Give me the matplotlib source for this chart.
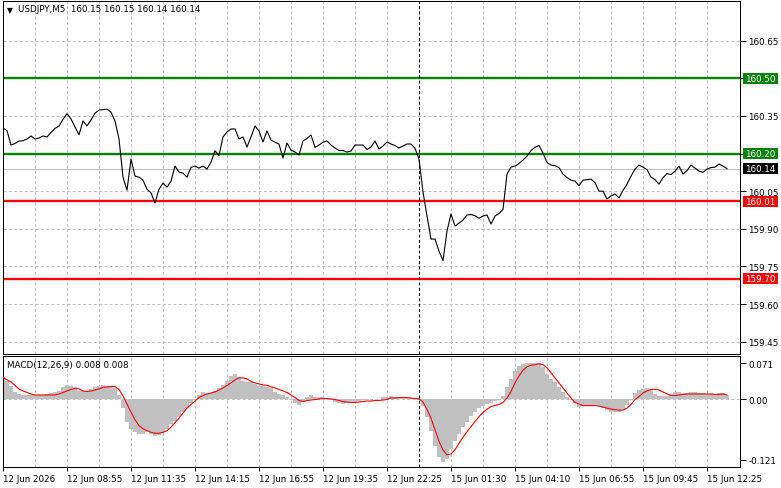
import matplotlib
matplotlib.use("Agg")
import matplotlib.pyplot as plt
from matplotlib.patches import Rectangle
import numpy as np

plt.rcParams['font.family'] = ['DejaVu Sans']

# USDJPY M5 close, every second bar (10 min step)
close = [
    160.302, 160.291, 160.234, 160.240, 160.250, 160.251, 160.258, 160.270, 160.258, 160.262,
    160.270, 160.266, 160.284, 160.300, 160.310, 160.336, 160.359, 160.338, 160.306, 160.275,
    160.330, 160.310, 160.334, 160.361, 160.373, 160.375, 160.377, 160.365, 160.330, 160.258,
    160.106, 160.054, 160.178, 160.110, 160.106, 160.094, 160.058, 160.043, 160.003, 160.058,
    160.082, 160.066, 160.090, 160.150, 160.126, 160.122, 160.106, 160.145, 160.150, 160.142,
    160.150, 160.138, 160.166, 160.211, 160.192, 160.266, 160.286, 160.298, 160.298, 160.258,
    160.266, 160.226, 160.266, 160.310, 160.290, 160.246, 160.290, 160.254, 160.245, 160.238,
    160.182, 160.242, 160.214, 160.206, 160.194, 160.250, 160.260, 160.274, 160.224, 160.234,
    160.245, 160.250, 160.234, 160.222, 160.212, 160.212, 160.206, 160.210, 160.234, 160.234,
    160.234, 160.216, 160.226, 160.250, 160.218, 160.230, 160.246, 160.238, 160.232, 160.222,
    160.230, 160.238, 160.238, 160.221, 160.178, 160.047, 159.951, 159.859, 159.859, 159.811,
    159.773, 159.891, 159.959, 159.911, 159.923, 159.935, 159.955, 159.957, 159.952, 159.942,
    159.951, 159.955, 159.919, 159.951, 159.961, 159.977, 160.118, 160.146, 160.150, 160.160,
    160.174, 160.190, 160.212, 160.225, 160.232, 160.202, 160.164, 160.154, 160.152, 160.144,
    160.118, 160.104, 160.094, 160.090, 160.072, 160.094, 160.096, 160.098, 160.084, 160.050,
    160.050, 160.019, 160.031, 160.039, 160.023, 160.053, 160.078, 160.110, 160.138, 160.154,
    160.146, 160.136, 160.106, 160.096, 160.078, 160.104, 160.120, 160.116, 160.130, 160.150,
    160.118, 160.132, 160.154, 160.142, 160.130, 160.125, 160.138, 160.144, 160.146, 160.158,
    160.150, 160.140,
]

macd = [
    0.043, 0.036, 0.026, 0.014, 0.010, 0.008, 0.008, 0.008, 0.007, 0.007,
    0.008, 0.010, 0.011, 0.013, 0.016, 0.023, 0.028, 0.026, 0.023, 0.016,
    0.016, 0.016, 0.020, 0.023, 0.026, 0.028, 0.026, 0.025, 0.021, 0.007,
    -0.017, -0.046, -0.060, -0.066, -0.070, -0.070, -0.066, -0.070, -0.074, -0.072,
    -0.066, -0.060, -0.050, -0.043, -0.036, -0.026, -0.017, -0.007, -0.001, 0.008,
    0.013, 0.011, 0.011, 0.016, 0.021, 0.028, 0.036, 0.046, 0.050, 0.043,
    0.036, 0.033, 0.033, 0.030, 0.026, 0.026, 0.023, 0.021, 0.014, 0.010,
    0.007, 0.003, -0.002, -0.007, -0.011, -0.005, 0.003, 0.008, 0.003, 0.003,
    0.003, 0.001, -0.001, -0.005, -0.007, -0.009, -0.007, -0.006, -0.005, -0.003,
    -0.001, -0.001, 0.000, 0.000, 0.000, 0.003, 0.003, 0.006, 0.004, 0.004,
    0.003, 0.002, 0.002, 0.002, -0.001, -0.013, -0.036, -0.063, -0.093, -0.116,
    -0.126, -0.119, -0.099, -0.083, -0.070, -0.056, -0.045, -0.033, -0.026, -0.018,
    -0.013, -0.010, -0.007, -0.004, -0.001, 0.006, 0.023, 0.040, 0.056, 0.065,
    0.069, 0.071, 0.071, 0.072, 0.071, 0.063, 0.050, 0.040, 0.033, 0.023,
    0.013, 0.004, -0.001, -0.007, -0.015, -0.014, -0.013, -0.011, -0.011, -0.013,
    -0.018, -0.022, -0.026, -0.026, -0.026, -0.020, -0.011, -0.001, 0.012, 0.017,
    0.020, 0.022, 0.017, 0.009, 0.005, 0.005, 0.005, 0.009, 0.013, 0.013,
    0.012, 0.012, 0.013, 0.013, 0.012, 0.011, 0.009, 0.009, 0.010, 0.011,
    0.012, 0.008,
]

signal = [
    0.043, 0.038, 0.034, 0.027, 0.020, 0.016, 0.013, 0.010, 0.008, 0.008,
    0.008, 0.008, 0.008, 0.008, 0.010, 0.013, 0.016, 0.019, 0.021, 0.020,
    0.016, 0.015, 0.016, 0.018, 0.020, 0.023, 0.024, 0.025, 0.025, 0.019,
    0.006, -0.010, -0.026, -0.041, -0.053, -0.059, -0.063, -0.066, -0.068, -0.068,
    -0.066, -0.063, -0.056, -0.047, -0.038, -0.028, -0.018, -0.011, -0.004, 0.003,
    0.007, 0.010, 0.012, 0.014, 0.018, 0.022, 0.027, 0.032, 0.038, 0.042,
    0.042, 0.040, 0.035, 0.032, 0.030, 0.028, 0.027, 0.024, 0.022, 0.019,
    0.016, 0.013, 0.008, 0.003, -0.003, -0.005, -0.003, -0.002, -0.001, 0.000,
    0.001, 0.001, 0.000, -0.001, -0.003, -0.005, -0.006, -0.007, -0.007, -0.006,
    -0.005, -0.004, -0.004, -0.003, -0.003, -0.002, -0.001, 0.002, 0.002, 0.003,
    0.003, 0.003, 0.002, 0.001, 0.000, -0.006, -0.021, -0.038, -0.061, -0.084,
    -0.101, -0.111, -0.109, -0.101, -0.088, -0.076, -0.065, -0.055, -0.045, -0.035,
    -0.027, -0.020, -0.015, -0.013, -0.011, -0.007, 0.002, 0.015, 0.032, 0.046,
    0.057, 0.064, 0.067, 0.068, 0.070, 0.068, 0.062, 0.052, 0.042, 0.032,
    0.022, 0.012, 0.002, -0.007, -0.010, -0.013, -0.013, -0.013, -0.013, -0.014,
    -0.016, -0.018, -0.020, -0.021, -0.022, -0.022, -0.018, -0.011, -0.001, 0.005,
    0.012, 0.016, 0.019, 0.019, 0.018, 0.014, 0.010, 0.007, 0.007, 0.008,
    0.009, 0.010, 0.010, 0.010, 0.010, 0.010, 0.010, 0.010, 0.009, 0.009,
    0.010, 0.008,
]

time_labels = ["12 Jun 2026", "12 Jun 08:55", "12 Jun 11:35", "12 Jun 14:15",
               "12 Jun 16:55", "12 Jun 19:35", "12 Jun 22:25", "15 Jun 01:30",
               "15 Jun 04:10", "15 Jun 06:55", "15 Jun 09:45", "15 Jun 12:25"]
label_bars = [0, 32, 64, 96, 128, 160, 192, 224, 256, 288, 320, 352]
separator_bar = 208

price_ticks = [160.65, 160.50, 160.35, 160.20, 160.05, 159.90, 159.75, 159.60, 159.45]
macd_ticks = [0.071, 0.0, -0.121]
macd_tick_labels = ["0.071", "0.00", "-0.121"]

green_levels = [160.50, 160.20]
red_levels = [160.01, 159.70]
bid = 160.14

title = "USDJPY,M5  160.15 160.15 160.14 160.14"
macd_title = "MACD(12,26,9) 0.008 0.008"

bars = np.arange(len(close)) * 2

W, H = 781, 489
FS = 6.3
GRID = '#C0C0C0'
DASH = (0, (2.9, 2.2))


def px_box(l, t, r, b):
    return [l / W, 1 - b / H, (r - l) / W, (b - t) / H]


fig = plt.figure(figsize=(W / 100, H / 100), dpi=100)
ax = fig.add_axes(px_box(3, 1.5, 740, 355))
ax2 = fig.add_axes(px_box(3, 357, 740, 468))

for a in (ax, ax2):
    a.set_xlim(0, 368.5)
    for s in a.spines.values():
        s.set_linewidth(0.75)
        s.set_color('black')
    for b in range(16, 368, 16):
        if b != separator_bar:
            a.axvline(b, color=GRID, lw=0.75, ls=DASH, zorder=0)
    a.axvline(separator_bar, color='black', lw=0.75, ls=DASH, zorder=4)
    a.yaxis.tick_right()
    a.tick_params(axis='y', direction='out', length=4, width=0.75,
                  labelsize=FS, pad=2, colors='black')

# main price panel
ax.set_ylim(159.401, 160.810)
for p in price_ticks:
    ax.axhline(p, color=GRID, lw=0.75, ls=DASH, zorder=0)
ax.set_yticks(price_ticks)
# the level tags below carry the text for ticks that sit on a level line
ax.set_yticklabels(["" if p in green_levels else f"{p:.2f}" for p in price_ticks])
ax.set_xticks([])

ax.axhline(bid, color=GRID, lw=0.8, zorder=1)
for lv in green_levels:
    ax.axhline(lv, color='#008000', lw=1.7, zorder=2)
for lv in red_levels:
    ax.axhline(lv, color='#FF0000', lw=1.7, zorder=2)
ax.plot(bars, close, color='black', lw=0.8, zorder=3)

# macd panel
ax2.set_ylim(-0.135, 0.0854)
ax2.axhline(0, color=GRID, lw=0.75, ls=DASH, zorder=0)
ax2.bar(bars, macd, width=2, color='#C0C0C0', linewidth=0, zorder=1)
ax2.plot(bars, signal, color='#FF0000', lw=0.8, zorder=3)
ax2.set_yticks(macd_ticks)
ax2.set_yticklabels(macd_tick_labels)
ax2.set_xticks(label_bars)
ax2.set_xticklabels(time_labels, ha='left')
ax2.tick_params(axis='x', direction='out', length=3, width=0.75,
                labelsize=FS, pad=2)

# price tags on the right scale
fig.canvas.draw()
tags = [(lv, '#008000') for lv in green_levels] + \
       [(lv, '#FF0000') for lv in red_levels] + [(bid, 'black')]
for lv, col in tags:
    yd = ax.transData.transform((0, lv))[1]
    fig.add_artist(Rectangle((742.5 / W, (yd - 5.5) / H), 35 / W, 11 / H,
                             transform=fig.transFigure, facecolor=col,
                             edgecolor='none', zorder=5))
    fig.text(745.5 / W, yd / H, f"{lv:.2f}", color='white', fontsize=FS,
             ha='left', va='center', zorder=6)

fig.text(7 / W, 1 - 10.5 / H, "\u25bc", fontsize=5.5, ha='left', va='center')
fig.text(18 / W, 1 - 10 / H, title, fontsize=FS, ha='left', va='center')
fig.text(7 / W, 1 - 366 / H, macd_title, fontsize=FS, ha='left', va='center')

fig.savefig("out.png", dpi=100)
